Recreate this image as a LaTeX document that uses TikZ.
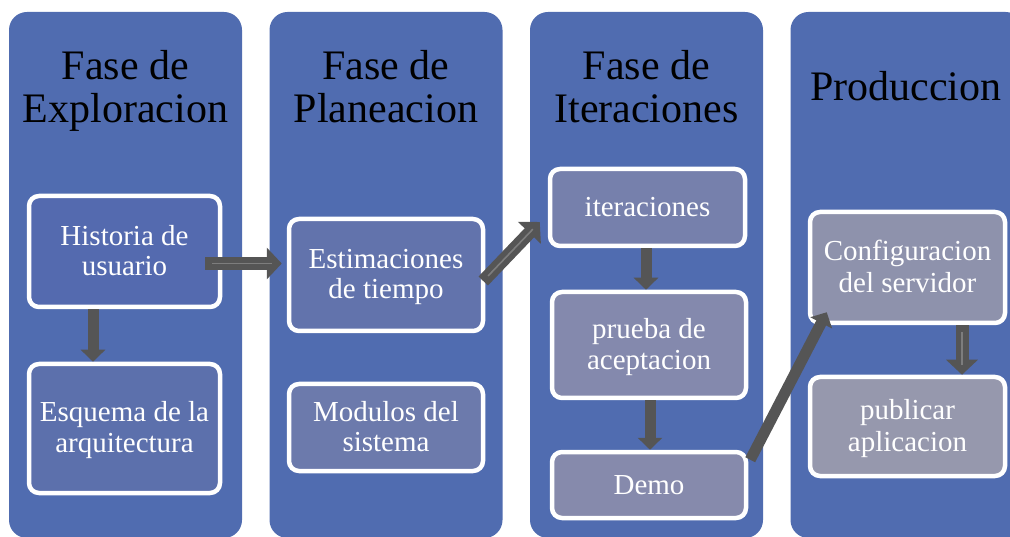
\documentclass[tikz,border=0pt]{standalone}
\usepackage{fontspec}
\setmainfont{Liberation Serif}
\usetikzlibrary{arrows.meta, calc}

\definecolor{phaseblue}{RGB}{80,108,176}
\definecolor{arrowgray}{RGB}{85,85,85}
\definecolor{glintgray}{RGB}{125,125,125}
\definecolor{fillA}{RGB}{84,106,175}
\definecolor{fillB}{RGB}{92,112,172}
\definecolor{fillC}{RGB}{98,115,172}
\definecolor{fillD}{RGB}{108,122,172}
\definecolor{fillE}{RGB}{118,128,172}
\definecolor{fillF}{RGB}{132,137,173}
\definecolor{fillG}{RGB}{134,138,172}
\definecolor{fillH}{RGB}{142,146,172}
\definecolor{fillI}{RGB}{150,152,173}

\newcommand{\tstrut}{\rule[-6pt]{0pt}{30pt}}

\tikzset{
  phase/.style={rectangle, rounded corners=18pt, fill=phaseblue, minimum width=233pt, minimum height=526pt, inner sep=0pt},
  phasetitle/.style={font=\fontsize{42}{43}\selectfont, align=center, inner sep=0pt},
  task/.style={rectangle, rounded corners=10pt, draw=white, line width=4.5pt, text=white, font=\fontsize{29}{30}\selectfont, align=center, inner sep=0pt},
  flow/.style={draw=arrowgray, line width=11pt, -{Triangle[width=24pt,length=12pt]}},
  bigflow/.style={draw=arrowgray, line width=13pt, -{Triangle[width=31pt,length=15pt]}},
  glint/.style={postaction={draw=glintgray, line width=1.6pt, -, shorten <=7pt, shorten >=10pt}}
}

\begin{document}
\begin{tikzpicture}[x=1pt, y=-1pt]
  \useasboundingbox (0,0) rectangle (1010,537);

  % phase columns
  \node[phase] (exploracion) at (125.5,275) {};
  \node[phase] (planeacion) at (386,275) {};
  \node[phase] (iteracion) at (646.5,275) {};
  \node[phase] (produccion) at (907,275) {};

  \node[phasetitle] (exploracionT) at (125.5,92.5) {\strut Fase de\\\strut Exploracion};
  \node[phasetitle] (planeacionT) at (386,92.5) {\strut Fase de\\\strut Planeacion};
  \node[phasetitle] (iteracionT) at (646.5,92.5) {\strut Fase de\\\strut Iteraciones};
  \node[phasetitle] (produccionT) at (906,91.5) {\strut Produccion};

  % tasks
  \node[task, fill=fillA, minimum width=191pt, minimum height=111pt] (historia) at (124.5,251.5) {\tstrut Historia de\\\tstrut usuario};
  \node[task, fill=fillB, minimum width=191pt, minimum height=129pt] (esquema) at (124.5,428.5) {\tstrut Esquema de la\\\tstrut arquitectura};
  \node[task, fill=fillC, minimum width=194pt, minimum height=112pt] (estimaciones) at (386,275) {\tstrut Estimaciones\\\tstrut de tiempo};
  \node[task, fill=fillD, minimum width=194pt, minimum height=87pt] (modulos) at (386,427.5) {\tstrut Modulos del\\\tstrut sistema};
  \node[task, fill=fillE, minimum width=195pt, minimum height=77pt] (iteraciones) at (647.5,207.5) {\tstrut iteraciones};
  \node[task, fill=fillF, minimum width=194pt, minimum height=106pt] (prueba) at (649,345) {\tstrut prueba de\\\tstrut aceptacion};
  \node[task, fill=fillG, minimum width=194pt, minimum height=66pt] (demo) at (649,485) {\tstrut Demo};
  \node[task, fill=fillH, minimum width=195pt, minimum height=111pt] (configuracion) at (907.5,267.5) {\tstrut Configuracion\\\tstrut del servidor};
  \node[task, fill=fillI, minimum width=195pt, minimum height=99pt] (publicar) at (907.5,426.5) {\tstrut publicar\\\tstrut aplicacion};

  % arrows
  \draw[flow] ([xshift=-31.5pt]historia.south) -- ([xshift=-31.5pt]esquema.north);
  \draw[bigflow, glint] ([shift={(-17,12)}]historia.east) -- ([shift={(-5,-11.5)}]estimaciones.west);
  \draw[bigflow, glint] ([shift={(-2,6)}]estimaciones.east) -- ([shift={(-8,14.5)}]iteraciones.west);
  \draw[flow] ([xshift=-1.5pt]iteraciones.south) -- ([xshift=-3pt]prueba.north);
  \draw[flow] ([xshift=1pt]prueba.south) -- ([xshift=1pt]demo.north);
  \draw[flow] ([shift={(2,10)}]demo.north east) -- ([shift={(19,-13)}]configuracion.south west);
  \draw[bigflow, glint] ([xshift=54.5pt]configuracion.south) -- ([xshift=54.5pt]publicar.north);
\end{tikzpicture}
\end{document}
